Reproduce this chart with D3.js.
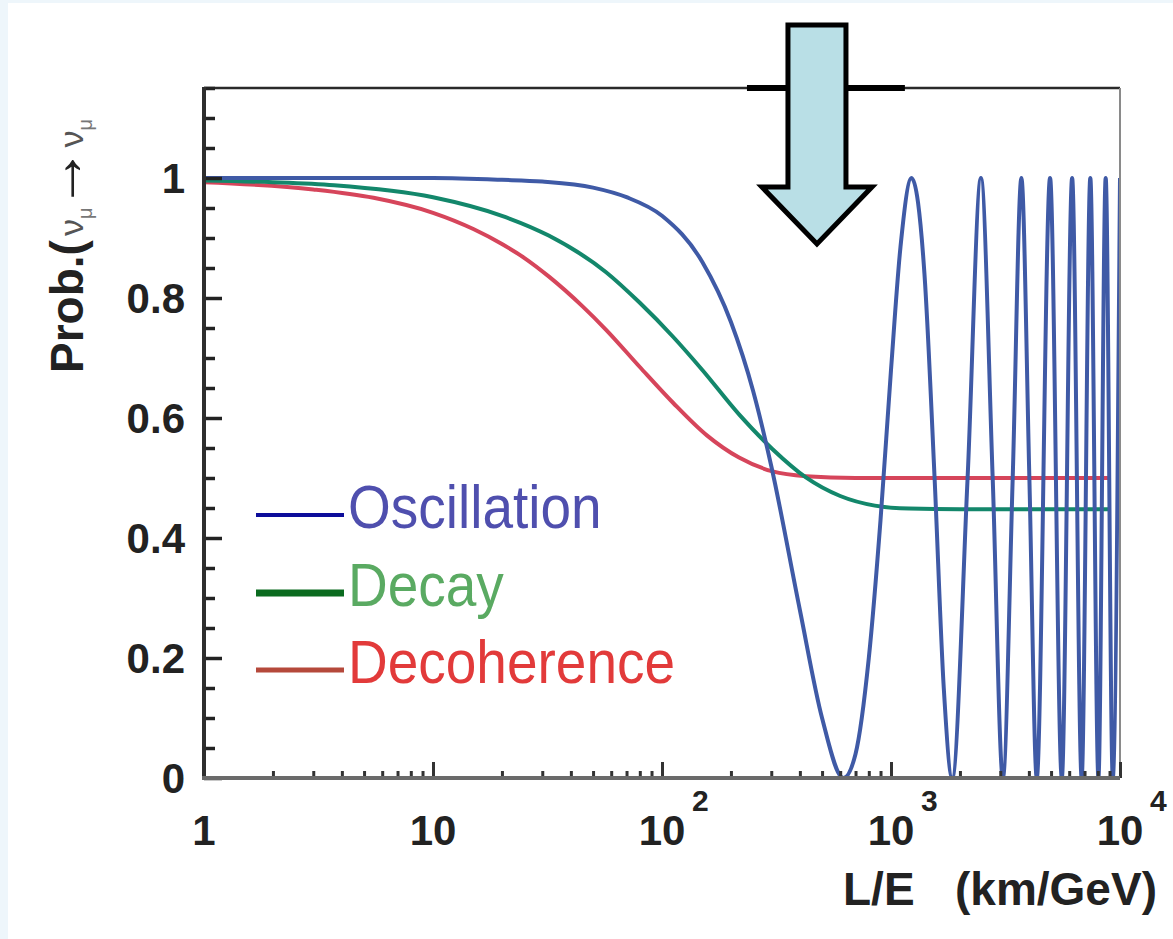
<!DOCTYPE html>
<html>
<head>
<meta charset="utf-8">
<script src="https://cdn.jsdelivr.net/npm/d3@7"></script>
<style>
  body { margin: 0; background: #eef6fb; }
  svg { display: block; }
  text { font-family: "Liberation Sans", Arial, sans-serif; }
</style>
</head>
<body>
<div id="chart"></div>
<script>
// values: [L/E in km/GeV, probability]
var oscillation = [
  [1, 1], [10, 1], [20, 0.997], [30, 0.994], [50, 0.984], [70, 0.968], [100, 0.937],
  [150, 0.86], [200, 0.76], [250, 0.645], [300, 0.52], [400, 0.28], [500, 0.1],
  [620, 0], [700, 0.04], [800, 0.2], [900, 0.43], [1000, 0.68], [1100, 0.885],
  [1230, 1], [1400, 0.84], [1550, 0.5], [1700, 0.15], [1850, 0],
  [2160, 0.5], [2470, 1], [2780, 0.5], [3080, 0], [3400, 0.5], [3710, 1],
  [4020, 0.5], [4330, 0], [4950, 1], [5570, 0], [6180, 1], [6800, 0],
  [7420, 1], [8050, 0], [8660, 1], [9300, 0], [10000, 1]
];
var decay = [
  [1, 0.996], [2, 0.993], [3.7, 0.988], [10, 0.968], [20, 0.937], [32, 0.904],
  [57, 0.843], [80, 0.792], [112, 0.735], [150, 0.68], [217, 0.606], [304, 0.548],
  [425, 0.501], [600, 0.47], [850, 0.454], [1200, 0.449], [2000, 0.448], [9000, 0.448]
];
var decoherence = [
  [1, 0.993], [3, 0.981], [5.5, 0.967], [10, 0.942], [15, 0.915], [20, 0.89],
  [25, 0.867], [32, 0.836], [45, 0.786], [57, 0.747], [80, 0.685], [112, 0.625],
  [157, 0.571], [217, 0.534], [304, 0.511], [425, 0.503], [700, 0.5], [9000, 0.5]
];

var seriesNames = ["Oscillation", "Decay", "Decoherence"];
var xTicks = [1, 10, 100, 1000, 10000];
var xTickBase = ["1", "10", "10", "10", "10"];
var xTickExp = ["", "", "2", "3", "4"];
var yTicks = [0, 0.2, 0.4, 0.6, 0.8, 1];
var yTickLabels = ["0", "0.2", "0.4", "0.6", "0.8", "1"];

var width = 1173;
var height = 939;
var plotLeft = 204, plotRight = 1120, plotTop = 88, plotBottom = 778;

var svg = d3.select("#chart").append("svg")
    .attr("width", width)
    .attr("height", height);

svg.append("rect")
    .attr("x", 8).attr("y", 3)
    .attr("width", width - 8).attr("height", height - 3)
    .attr("fill", "#ffffff");

var xScale = d3.scaleLog()
    .domain([1, 10000])
    .range([plotLeft, plotRight]);

var yScale = d3.scaleLinear()
    .domain([0, 1.15])
    .range([plotBottom, plotTop]);

svg.append("clipPath").attr("id", "plotclip")
  .append("rect")
    .attr("x", plotLeft).attr("y", plotTop)
    .attr("width", plotRight - plotLeft).attr("height", plotBottom - plotTop);

var line = d3.line()
    .x(function(d){ return xScale(d[0]); })
    .y(function(d){ return yScale(d[1]); })
    .curve(d3.curveMonotoneX);

var curves = svg.append("g").attr("clip-path", "url(#plotclip)");
curves.append("path").datum(decoherence)
    .attr("d", line).attr("fill", "none")
    .attr("stroke", "#d6455b").attr("stroke-width", 4);
curves.append("path").datum(decay)
    .attr("d", line).attr("fill", "none")
    .attr("stroke", "#13876b").attr("stroke-width", 4);
curves.append("path").datum(oscillation)
    .attr("d", line).attr("fill", "none")
    .attr("stroke", "#3f5aa6").attr("stroke-width", 4);

// frame
svg.append("line")
    .attr("x1", plotLeft).attr("x2", plotRight).attr("y1", plotTop).attr("y2", plotTop)
    .attr("stroke", "#2a2a2a").attr("stroke-width", 2.5);
svg.append("line")
    .attr("x1", plotRight).attr("x2", plotRight).attr("y1", plotTop).attr("y2", plotBottom)
    .attr("stroke", "#8a8a8a").attr("stroke-width", 2);

// y axis, ticks inside
var yAxis = d3.axisRight(yScale)
    .tickValues(d3.range(0, 1.151, 0.05))
    .tickSize(0)
    .tickFormat("");
var gy = svg.append("g")
    .attr("transform", "translate(" + plotLeft + ",0)")
    .call(yAxis);
gy.select(".domain").remove();
gy.selectAll(".tick line")
    .attr("x2", function(d){ return Math.abs(d * 5 - Math.round(d * 5)) < 1e-6 ? 18 : 11; })
    .attr("stroke", "#222").attr("stroke-width", 3.5);
svg.append("line")
    .attr("x1", plotLeft).attr("x2", plotLeft).attr("y1", plotTop - 1).attr("y2", plotBottom + 2)
    .attr("stroke", "#2e2e2e").attr("stroke-width", 4);

svg.selectAll(".ylab")
    .data(yTicks).enter().append("text")
    .attr("class", "ylab")
    .attr("x", 185)
    .attr("y", function(d){ return yScale(d) + 15; })
    .attr("text-anchor", "end")
    .attr("font-size", 42).attr("font-weight", "bold").attr("fill", "#222")
    .text(function(d, i){ return yTickLabels[i]; });

// x axis, ticks inside
var minorX = [];
for (var dec = 1; dec < 10000; dec *= 10) {
    for (var k = 2; k <= 10; k++) minorX.push(dec * k);
}
var xAxis = d3.axisTop(xScale)
    .tickValues(minorX)
    .tickSize(0)
    .tickFormat("");
var gx = svg.append("g")
    .attr("transform", "translate(0," + plotBottom + ")")
    .call(xAxis);
gx.select(".domain").remove();
gx.selectAll(".tick line")
    .attr("y2", function(d){ return xTicks.indexOf(d) >= 0 ? -16 : -7; })
    .attr("stroke", "#333").attr("stroke-width", 3);
svg.append("line")
    .attr("x1", plotLeft - 2).attr("x2", plotRight).attr("y1", plotBottom).attr("y2", plotBottom)
    .attr("stroke", "#6a6a6a").attr("stroke-width", 4);

svg.selectAll(".xlab")
    .data(xTicks).enter().append("text")
    .attr("class", "xlab")
    .attr("x", function(d){ return xScale(d); })
    .attr("y", 845)
    .attr("text-anchor", "middle")
    .attr("font-size", 42).attr("font-weight", "bold").attr("fill", "#222")
    .text(function(d, i){ return xTickBase[i]; });
svg.selectAll(".xexp")
    .data(xTicks).enter().append("text")
    .attr("class", "xexp")
    .attr("x", function(d){ return xScale(d) + 30; })
    .attr("y", 811)
    .attr("font-size", 30).attr("font-weight", "bold").attr("fill", "#222")
    .text(function(d, i){ return xTickExp[i]; });

svg.append("text")
    .attr("x", 843).attr("y", 905)
    .attr("font-size", 46).attr("font-weight", "bold").attr("fill", "#222")
    .text("L/E");
svg.append("text")
    .attr("x", 955).attr("y", 905)
    .attr("font-size", 46).attr("font-weight", "bold").attr("fill", "#222")
    .text("(km/GeV)");

// y axis title
var ytitle = svg.append("text")
    .attr("transform", "translate(83,373) rotate(-90)")
    .attr("fill", "#222");
ytitle.append("tspan").attr("font-size", 46).attr("font-weight", "bold").text("Prob.(");
ytitle.append("tspan").attr("font-size", 34).attr("fill", "#555").attr("dx", 4).text("ν");
ytitle.append("tspan").attr("font-size", 20).attr("fill", "#777").attr("dy", 9).text("μ");
ytitle.append("tspan").attr("font-size", 62).attr("font-weight", "bold").attr("dy", -9).attr("dx", -2).text("→");
ytitle.append("tspan").attr("font-size", 34).attr("fill", "#555").attr("dx", 0).text("ν");
ytitle.append("tspan").attr("font-size", 20).attr("fill", "#777").attr("dy", 9).text("μ");

// legend
var legendLine = ["#0d0d9a", "#0b6b1f", "#b5493b"];
var legendText = ["#4f4fae", "#5aaa62", "#e23a3a"];
var legendWidth = [4, 7, 5];
var legendY = [515, 593, 670];
var legend = svg.selectAll(".legend")
    .data(seriesNames).enter().append("g")
    .attr("class", "legend")
    .attr("transform", function(d, i){ return "translate(256," + legendY[i] + ")"; });
legend.append("line")
    .attr("x1", 0).attr("x2", 88)
    .attr("stroke", function(d, i){ return legendLine[i]; })
    .attr("stroke-width", function(d, i){ return legendWidth[i]; });
legend.append("text")
    .attr("transform", "translate(92,13) scale(1,1.1)")
    .attr("font-size", 55)
    .attr("fill", function(d, i){ return legendText[i]; })
    .text(function(d){ return d; });

// annotation: bar on the top frame and the down arrow
svg.append("line")
    .attr("x1", xScale(235)).attr("x2", xScale(1150))
    .attr("y1", plotTop).attr("y2", plotTop)
    .attr("stroke", "#000").attr("stroke-width", 6);

var tipX = xScale(475), tipY = yScale(0.89);
var arrow = [
  [tipX - 29, 25], [tipX + 29, 25], [tipX + 29, tipY - 57], [tipX + 55, tipY - 57],
  [tipX, tipY], [tipX - 55, tipY - 57], [tipX - 29, tipY - 57]
];
svg.append("path")
    .attr("d", d3.line()(arrow) + "Z")
    .attr("fill", "#b9dfe6")
    .attr("stroke", "#000").attr("stroke-width", 5)
    .attr("stroke-linejoin", "miter");
</script>
</body>
</html>
